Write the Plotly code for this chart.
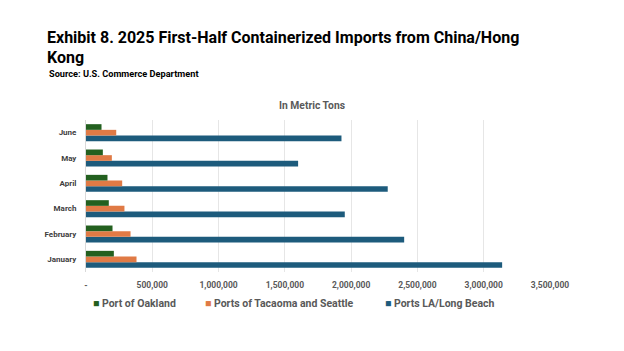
import plotly.graph_objects as go

months = ["January", "February", "March", "April", "May", "June"]
oakland = [210000, 200000, 172000, 162000, 127000, 117000]
tacoma_seattle = [381000, 336000, 290000, 273000, 195000, 228000]
la_long_beach = [3139000, 2400000, 1952000, 2276000, 1600000, 1927000]

tick_vals = [0, 500000, 1000000, 1500000, 2000000, 2500000, 3000000, 3500000]
tick_text = ["-", "500,000", "1,000,000", "1,500,000", "2,000,000", "2,500,000", "3,000,000", "3,500,000"]

series_names = ["Port of Oakland", "Ports of Tacaoma and Seattle", "Ports LA/Long Beach"]
series_colors = ["#23601F", "#E07A45", "#1D5B7C"]

FONT = "Roboto"
W, H = 624, 351
L, R, T, B = 86, 74, 120, 79
PW, PH = W - L - R, H - T - B

fig = go.Figure()
# drawn bottom-to-top within each month: LA/Long Beach, Tacoma/Seattle, Oakland
for name, vals, col in [(series_names[2], la_long_beach, series_colors[2]),
                        (series_names[1], tacoma_seattle, series_colors[1]),
                        (series_names[0], oakland, series_colors[0])]:
    fig.add_trace(go.Bar(y=months, x=vals, orientation="h", name=name, showlegend=False,
                         marker=dict(color=col, line=dict(width=0))))

fig.update_layout(
    width=W, height=H,
    paper_bgcolor="white", plot_bgcolor="white",
    margin=dict(l=L, r=R, t=T, b=B, autoexpand=False),
    barmode="group", bargap=0.33, bargroupgap=0,
    font=dict(family=FONT, color="#595959"),
    title=dict(
        text="<b>Exhibit 8. 2025 First-Half Containerized Imports from China/Hong<br>Kong</b>",
        x=47 / W, xref="container", xanchor="left", y=1 - 42.5 / H, yref="container", yanchor="middle",
        font=dict(family=FONT, size=16, color="#000000"),
        automargin=False,
    ),
    showlegend=False,
    xaxis=dict(range=[0, 3500000], tickvals=tick_vals, ticktext=tick_text, automargin=False,
               showgrid=True, gridcolor="#E6E6E6", gridwidth=1, zeroline=False, tickangle=0,
               showline=False, ticks="", ticklabelstandoff=6,
               tickfont=dict(family=FONT, size=8.5, color="#595959", weight="bold")),
    yaxis=dict(categoryorder="array", categoryarray=months, showline=True, linecolor="#D9D9D9",
               linewidth=1, ticks="", ticklabelstandoff=7, automargin=False,
               tickfont=dict(family=FONT, size=8, color="#404040", weight="bold")),
)

fig.add_annotation(text="<b>Source: U.S. Commerce Department</b>", xref="paper", yref="paper",
                   x=(47 - L) / PW, xanchor="left", y=1 + (T - 73) / PH, yanchor="middle",
                   showarrow=False, font=dict(family=FONT, size=9.2, color="#000000"))
fig.add_annotation(text="<b>In Metric Tons</b>", xref="paper", yref="paper",
                   x=(312 - L) / PW, xanchor="center", y=1 + (T - 105) / PH, yanchor="middle",
                   showarrow=False, font=dict(family=FONT, size=10.3, color="#595959"))

# legend row (colored square + label)
legend_x = [91, 203, 383]
for name, col, lx in zip(series_names, series_colors, legend_x):
    fig.add_annotation(
        text=f"<span style='color:{col}'>■</span> <b>{name}</b>",
        xref="paper", yref="paper", x=(lx - L) / PW, xanchor="left",
        y=-(303 - (T + PH)) / PH, yanchor="middle", showarrow=False,
        font=dict(family=FONT, size=10.5, color="#595959"))

fig.write_html("out.html")
